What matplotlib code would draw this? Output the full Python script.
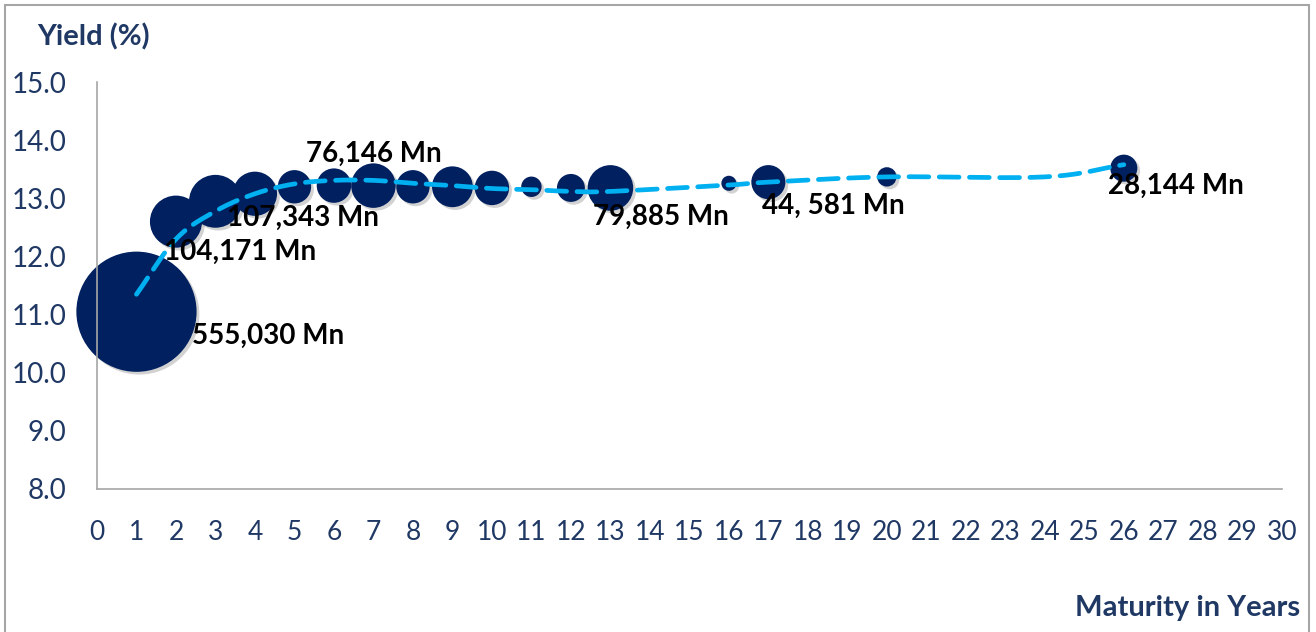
import matplotlib.pyplot as plt
import matplotlib.patheffects as pe
from matplotlib.patches import Rectangle
import numpy as np

plt.rcParams['font.family'] = ['Lato', 'DejaVu Sans']

# bond issues: maturity (years), yield (%), outstanding volume (Mn)
maturity = [1, 2, 3, 4, 5, 6, 7, 8, 9, 10, 11, 12, 13, 16, 17, 20, 26]
yields = [11.05, 12.6, 12.95, 13.08, 13.2, 13.22, 13.22, 13.2, 13.2, 13.18,
          13.2, 13.18, 13.18, 13.26, 13.28, 13.37, 13.52]
volume = [555030, 104171, 107343, 75000, 42700, 45500, 76146, 42700, 64000,
          45500, 16000, 30000, 79885, 8700, 44581, 14400, 28144]

# fitted yield curve
curve_x = [1, 2, 3, 4, 5, 6, 7, 8, 9, 10, 11, 12, 13, 16, 17, 20, 24, 26]
curve_y = [11.35, 12.3, 12.78, 13.08, 13.25, 13.31, 13.31, 13.26, 13.22, 13.17,
           13.15, 13.12, 13.12, 13.23, 13.28, 13.37, 13.37, 13.58]

# volume labels shown on the chart
label_idx = [0, 1, 2, 6, 12, 14, 16]
label_txt = ['555,030 Mn', '104,171 Mn', '107,343 Mn', '76,146 Mn',
             '79,885 Mn', '44, 581 Mn', '28,144 Mn']
label_off = [(1.4, -0.42), (-0.3, -0.52), (0.28, -0.29), (-1.7, 0.55),
             (-0.45, -0.49), (-0.15, -0.4), (-0.4, -0.31)]

navy = '#002060'
txt_navy = '#1F3864'


def smooth(xs, ys, n=20):
    # catmull-rom style smoothing for the drawn line
    xs = np.asarray(xs, float)
    ys = np.asarray(ys, float)
    px = np.concatenate([[2 * xs[0] - xs[1]], xs, [2 * xs[-1] - xs[-2]]])
    py = np.concatenate([[2 * ys[0] - ys[1]], ys, [2 * ys[-1] - ys[-2]]])
    ox, oy = [], []
    for i in range(1, len(px) - 2):
        t = np.linspace(0, 1, n, endpoint=False)
        for arr, out in ((px, ox), (py, oy)):
            p0, p1, p2, p3 = arr[i - 1], arr[i], arr[i + 1], arr[i + 2]
            out.extend(0.5 * (2 * p1 + (-p0 + p2) * t
                              + (2 * p0 - 5 * p1 + 4 * p2 - p3) * t ** 2
                              + (-p0 + 3 * p1 - 3 * p2 + p3) * t ** 3))
    ox.append(xs[-1])
    oy.append(ys[-1])
    return ox, oy


fig = plt.figure(figsize=(13.16, 6.32), dpi=100)
ax = fig.add_axes([0.0737, 0.2263, 0.9003, 0.6437])

sizes = [v * 0.0135 for v in volume]
sc = ax.scatter(maturity, yields, s=sizes, color=navy, zorder=2, linewidths=0,
                clip_on=False)
sc.set_path_effects([pe.SimplePatchShadow(offset=(2, -2), shadow_rgbFace='#808080',
                                          alpha=0.35), pe.Normal()])

lx, ly = smooth(curve_x, curve_y)
ax.plot(lx, ly, color='#00B0F0', lw=3.4, dashes=(4.2, 2.2), zorder=3,
        dash_capstyle='round')

for i, t, (dx, dy) in zip(label_idx, label_txt, label_off):
    ax.text(maturity[i] + dx, yields[i] + dy, t, fontsize=20, fontweight='bold',
            color='black', ha='left', va='center', zorder=4)

ax.set_xlim(0, 30)
ax.set_ylim(8, 15)
ax.set_xticks(range(0, 31))
ax.set_yticks(np.arange(8, 15.01, 1))
ax.set_yticklabels([f'{v:.1f}' for v in np.arange(8, 15.01, 1)])
ax.tick_params(axis='both', length=0, labelcolor=txt_navy)
ax.tick_params(axis='y', pad=22, labelsize=20)
ax.tick_params(axis='x', pad=22, labelsize=19)
for s in ('top', 'right'):
    ax.spines[s].set_visible(False)
for s in ('left', 'bottom'):
    ax.spines[s].set_color('#A6A6A6')
    ax.spines[s].set_linewidth(1.2)

fig.text(0.028, 0.942, 'Yield (%)', fontsize=21, fontweight='bold', color=txt_navy,
         ha='left', va='center')
fig.text(0.988, 0.038, 'Maturity in Years', fontsize=21, fontweight='bold',
         color=txt_navy, ha='right', va='center')

fig.patches.append(Rectangle((0.004, -0.01), 0.991, 1.002, transform=fig.transFigure,
                             fill=False, edgecolor='#A6A6A6', lw=1.5))

fig.savefig('out.png', dpi=100)
